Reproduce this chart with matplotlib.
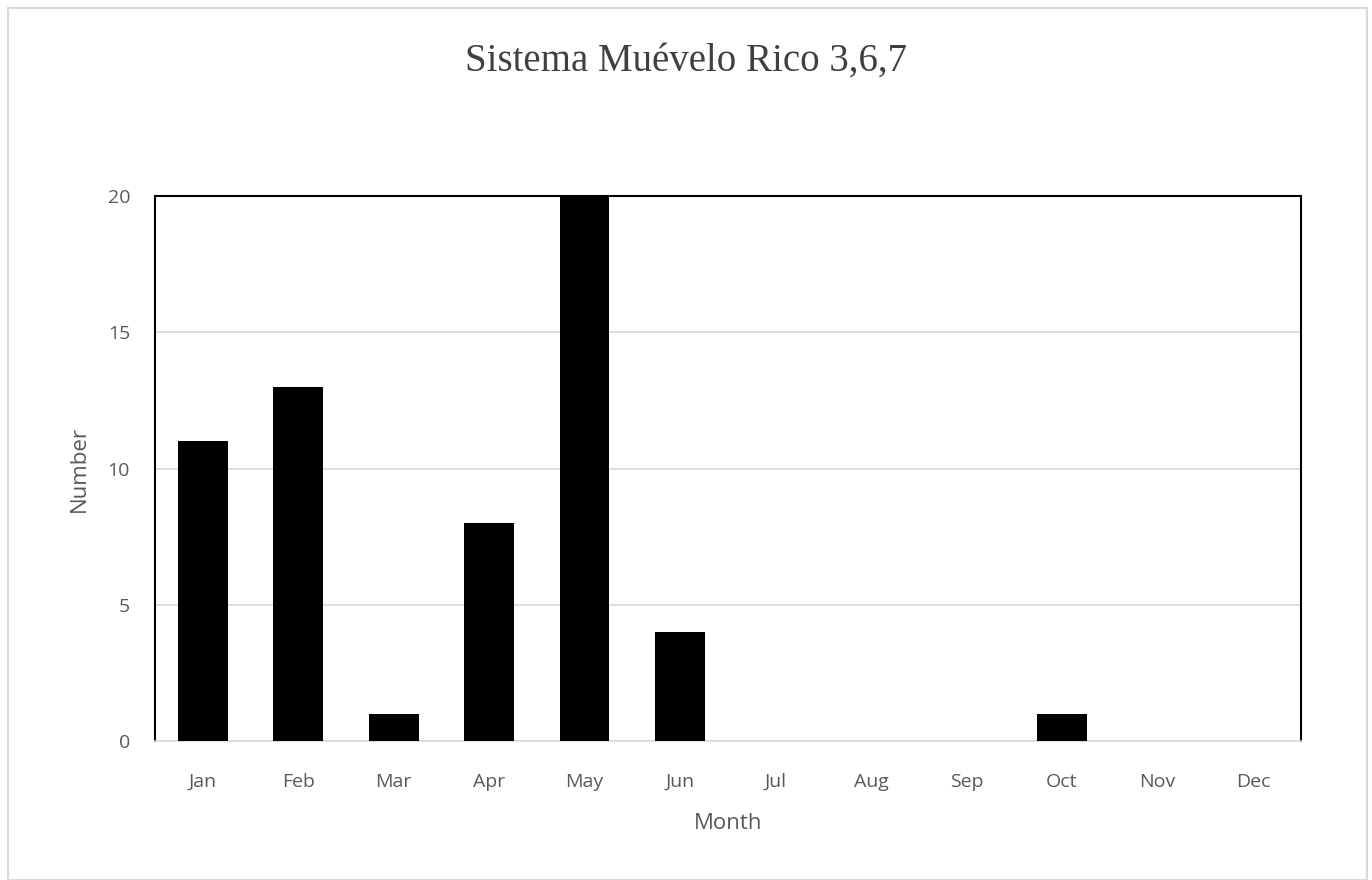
import matplotlib.pyplot as plt
from matplotlib.patches import Rectangle

# Data
months = ["Jan", "Feb", "Mar", "Apr", "May", "Jun", "Jul", "Aug", "Sep", "Oct", "Nov", "Dec"]
counts = [11, 13, 1, 8, 20, 4, 0, 0, 0, 1, 0, 0]

fig = plt.figure(figsize=(13.72, 8.8), dpi=100)
ax = fig.add_axes([0.113, 0.158, 0.835, 0.619])

# Light grey outer border of the chart area
fig.patches.append(Rectangle((8 / 1372, 0), 1359 / 1372, 872 / 880, transform=fig.transFigure,
                             fill=False, edgecolor="#d9d9d9", linewidth=1.5))

x = list(range(len(months)))
ax.bar(x, counts, width=0.52, color="black", zorder=3)

ax.set_xlim(-0.5, len(months) - 0.5)
ax.set_ylim(0, 20)
ax.set_yticks([0, 5, 10, 15, 20])
ax.set_xticks(x)
ax.set_xticklabels(months)
ax.grid(axis="y", color="#d9d9d9", linewidth=1.2, zorder=0)

for side in ["left", "right", "top"]:
    ax.spines[side].set_color("black")
    ax.spines[side].set_linewidth(1.5)
ax.spines["bottom"].set_color("#d9d9d9")
ax.spines["bottom"].set_linewidth(1.2)

ax.tick_params(length=0, labelsize=14, labelcolor="#595959")
for lab in ax.get_xticklabels() + ax.get_yticklabels():
    lab.set_family("Open Sans")
ax.tick_params(axis="x", pad=23)
ax.tick_params(axis="y", pad=18)

ax.set_xlabel("Month", fontsize=16, color="#595959", family="Open Sans", labelpad=16)
ax.set_ylabel("Number", fontsize=16, color="#595959", family="Open Sans", labelpad=13)
fig.suptitle("Sistema Muévelo Rico 3,6,7", y=0.952, fontsize=28, color="#404040",
             family="Liberation Serif")

plt.savefig("out.png", dpi=100)
